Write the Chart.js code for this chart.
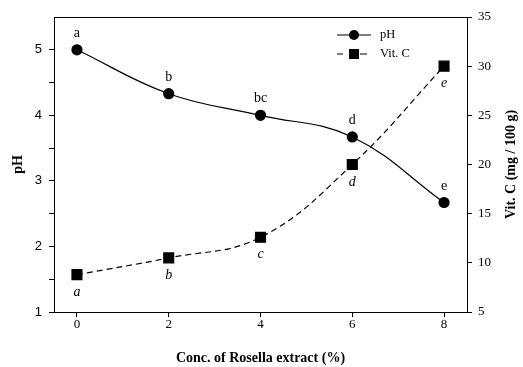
<!DOCTYPE html>
<html>
<head>
<meta charset="utf-8">
<script src="https://cdn.jsdelivr.net/npm/chart.js@4"></script>
<style>
  html, body { margin: 0; padding: 0; background: #fff; }
  #wrap { width: 523px; height: 367px; }
</style>
</head>
<body>
<div id="wrap"><canvas id="chart" width="523" height="367"></canvas></div>
<script>
// Data
const concentrations = [0, 2, 4, 6, 8];
const phValues = [5.0, 4.33, 4.0, 3.67, 2.67];
const vitCValues = [8.8, 10.5, 12.6, 20.0, 30.0];
const phLetters = ['a', 'b', 'bc', 'd', 'e'];
const vitCLetters = ['a', 'b', 'c', 'd', 'e'];

const xTicks = [0, 2, 4, 6, 8];
const phTicks = [1, 1.5, 2, 2.5, 3, 3.5, 4, 4.5, 5];
const vitCTicks = [5, 10, 15, 20, 25, 30, 35];

const SERIF = '"Liberation Serif", "Times New Roman", serif';
const SANS = '"Liberation Sans", Arial, sans-serif';

Chart.defaults.color = '#000';
Chart.defaults.font.family = SERIF;

// letters over pH points, italic letters under Vit. C points
const letterPlugin = {
    id: 'letters',
    afterDatasetsDraw(chart) {
        const ctx = chart.ctx;
        ctx.save();
        ctx.fillStyle = '#000';
        ctx.textAlign = 'center';
        ctx.textBaseline = 'alphabetic';
        ctx.font = '14px ' + SERIF;
        chart.getDatasetMeta(0).data.forEach((pt, i) => {
            ctx.fillText(phLetters[i], pt.x, pt.y - 13);
        });
        ctx.font = 'italic 14px ' + SERIF;
        chart.getDatasetMeta(1).data.forEach((pt, i) => {
            ctx.fillText(vitCLetters[i], pt.x, pt.y + 21);
        });
        ctx.restore();
    }
};

// box, legend and right axis title
const decorPlugin = {
    id: 'decor',
    afterDraw(chart) {
        const ctx = chart.ctx;
        const a = chart.chartArea;
        ctx.save();
        ctx.strokeStyle = '#000';
        ctx.lineWidth = 1;
        // top border
        ctx.beginPath();
        ctx.moveTo(a.left, a.top + 0.5);
        ctx.lineTo(a.right, a.top + 0.5);
        ctx.stroke();

        // legend
        const lx = a.left + 283, ly1 = a.top + 18, ly2 = a.top + 37;
        ctx.beginPath();
        ctx.moveTo(lx, ly1);
        ctx.lineTo(lx + 34, ly1);
        ctx.stroke();
        ctx.fillStyle = '#000';
        ctx.beginPath();
        ctx.arc(lx + 17, ly1, 5, 0, Math.PI * 2);
        ctx.fill();
        ctx.beginPath();
        ctx.moveTo(lx, ly2);
        ctx.lineTo(lx + 6, ly2);
        ctx.moveTo(lx + 23, ly2);
        ctx.lineTo(lx + 30, ly2);
        ctx.stroke();
        ctx.fillRect(lx + 12, ly2 - 5, 10, 10);
        ctx.font = '12.5px ' + SERIF;
        ctx.textAlign = 'left';
        ctx.textBaseline = 'middle';
        ctx.fillText('pH', lx + 43, ly1);
        ctx.fillText('Vit. C', lx + 43, ly2);

        // right title reads bottom to top
        ctx.translate(511, (a.top + a.bottom) / 2);
        ctx.rotate(-Math.PI / 2);
        ctx.textAlign = 'center';
        ctx.font = 'bold 14px ' + SERIF;
        ctx.fillText('Vit. C (mg / 100 g)', 0, 0);
        ctx.restore();
    }
};

new Chart(document.getElementById('chart').getContext('2d'), {
    type: 'line',
    data: {
        datasets: [
            {
                label: 'pH',
                data: concentrations.map((c, i) => ({ x: c, y: phValues[i] })),
                yAxisID: 'y',
                borderColor: '#000',
                backgroundColor: '#000',
                borderWidth: 1.2,
                pointStyle: 'circle',
                pointRadius: 5,
                tension: 0.4
            },
            {
                label: 'Vit. C',
                data: concentrations.map((c, i) => ({ x: c, y: vitCValues[i] })),
                yAxisID: 'y2',
                borderColor: '#000',
                backgroundColor: '#000',
                borderWidth: 1.2,
                borderDash: [6, 4],
                pointStyle: 'rect',
                pointRadius: 7,
                tension: 0.4
            }
        ]
    },
    options: {
        responsive: false,
        animation: false,
        layout: { padding: { top: 17, left: 0, right: 0, bottom: 0 } },
        plugins: {
            legend: { display: false },
            tooltip: { enabled: false }
        },
        scales: {
            x: {
                type: 'linear',
                position: 'bottom',
                min: -0.5,
                max: 8.5,
                afterBuildTicks: s => { s.ticks = xTicks.map(v => ({ value: v })); },
                afterFit: s => { s.height = 55; },
                grid: { drawOnChartArea: false, drawTicks: true, tickLength: 5, color: '#000' },
                border: { display: true, color: '#000', width: 1 },
                ticks: { font: { family: SERIF, size: 13 }, padding: 0, color: '#000' },
                title: {
                    display: true,
                    text: 'Conc. of Rosella extract (%)',
                    font: { family: SERIF, size: 14, weight: 'bold' },
                    padding: { top: 0, bottom: 0 },
                    color: '#000'
                }
            },
            y: {
                type: 'linear',
                position: 'left',
                min: 1,
                max: 5.5,
                afterBuildTicks: s => { s.ticks = phTicks.map(v => ({ value: v })); },
                afterFit: s => { s.width = 54; },
                grid: { drawOnChartArea: false, drawTicks: true, tickLength: 5, color: '#000' },
                border: { display: true, color: '#000', width: 1 },
                ticks: {
                    font: { family: SANS, size: 13 },
                    padding: 7,
                    color: '#000',
                    callback: v => (Number.isInteger(v) ? String(v) : '')
                },
                title: {
                    display: true,
                    text: 'pH',
                    font: { family: SERIF, size: 14, weight: 'bold' },
                    padding: { top: 10, bottom: 0 },
                    color: '#000'
                }
            },
            y2: {
                type: 'linear',
                position: 'right',
                min: 5,
                max: 35,
                afterBuildTicks: s => { s.ticks = vitCTicks.map(v => ({ value: v })); },
                afterFit: s => { s.width = 56; },
                grid: { drawOnChartArea: false, drawTicks: true, tickLength: 5, color: '#000' },
                border: { display: true, color: '#000', width: 1 },
                ticks: { font: { family: SERIF, size: 13 }, padding: 6, color: '#000' }
            }
        }
    },
    plugins: [letterPlugin, decorPlugin]
});
</script>
</body>
</html>
